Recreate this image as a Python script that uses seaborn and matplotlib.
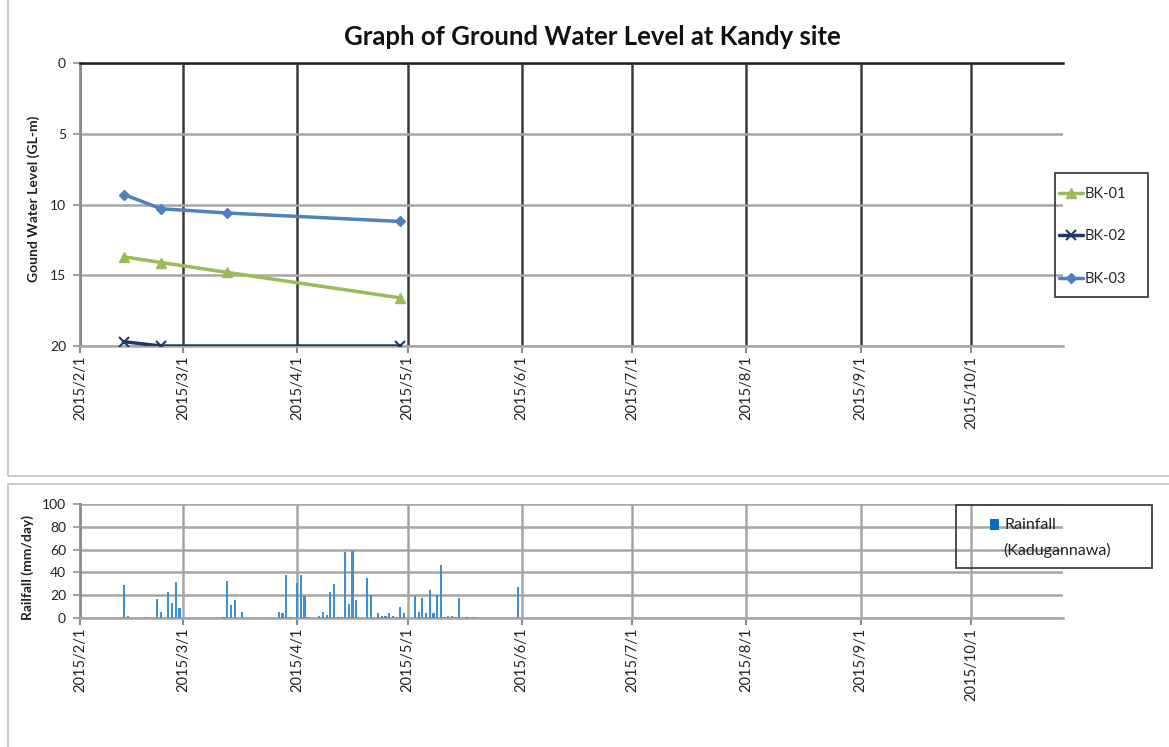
import matplotlib
matplotlib.use("Agg")
import matplotlib.pyplot as plt
import matplotlib.dates as mdates
from matplotlib.patches import Rectangle
from matplotlib.lines import Line2D
from matplotlib.ticker import FuncFormatter
import pandas as pd
import seaborn as sns

# ---- ground water level (m below ground level) ----
bk01_dates = ["2015-02-13", "2015-02-23", "2015-03-13", "2015-04-29"]
bk01_level = [13.7, 14.1, 14.8, 16.6]
bk02_dates = ["2015-02-13", "2015-02-23", "2015-04-29"]
bk02_level = [19.7, 20.0, 20.0]
bk03_dates = ["2015-02-13", "2015-02-23", "2015-03-13", "2015-04-29"]
bk03_level = [9.3, 10.3, 10.6, 11.2]

# ---- daily rainfall at Kadugannawa (mm/day) ----
rain_dates = [
    "2015-02-13", "2015-02-14", "2015-02-19", "2015-02-22", "2015-02-23",
    "2015-02-25", "2015-02-26", "2015-02-27", "2015-02-28",
    "2015-03-12", "2015-03-13", "2015-03-14", "2015-03-15", "2015-03-17",
    "2015-03-27", "2015-03-28", "2015-03-29", "2015-03-30",
    "2015-04-01", "2015-04-02", "2015-04-03", "2015-04-04",
    "2015-04-07", "2015-04-08", "2015-04-09", "2015-04-10", "2015-04-11",
    "2015-04-12", "2015-04-13", "2015-04-14", "2015-04-15", "2015-04-16",
    "2015-04-17", "2015-04-20", "2015-04-21",
    "2015-04-23", "2015-04-24", "2015-04-25", "2015-04-26", "2015-04-27",
    "2015-04-28", "2015-04-29", "2015-04-30",
    "2015-05-03", "2015-05-04", "2015-05-05", "2015-05-06", "2015-05-07",
    "2015-05-08", "2015-05-09", "2015-05-10", "2015-05-11", "2015-05-12",
    "2015-05-13", "2015-05-14", "2015-05-15", "2015-05-17", "2015-05-19",
    "2015-05-31",
]
rain_mm = [
    29, 2, 1, 17, 5,
    23, 13, 32, 9,
    1, 32.5, 11.5, 16, 5,
    5, 4, 37.5, 1,
    31, 37.5, 19, 1,
    2, 5, 3, 23, 30,
    1, 1, 57.5, 12.5, 58.5,
    16, 35.5, 20,
    4, 2, 2, 4, 1.5,
    1, 10, 4,
    19, 5, 17.5, 4, 25,
    4, 20, 46.5, 1, 1.5,
    1.5, 1, 17.5, 0.5, 0.5,
    27,
]
rain_label = ["Rainfall", "(Kadugannawa)"]

x_start = pd.Timestamp("2015-02-01")
x_end = pd.Timestamp("2015-10-26")

sns.set_theme(style="white")
plt.rcParams["font.family"] = ["Lato", "DejaVu Sans"]

fig = plt.figure(figsize=(11.69, 7.47), dpi=100)
W, H = 1169, 747


def fbox(x0, y0, x1, y1):
    """pixel box (top-left origin) -> figure fraction [l, b, w, h]"""
    return [x0 / W, 1 - y1 / H, (x1 - x0) / W, (y1 - y0) / H]


def frame(x0, y0, x1, y1, color, lw):
    l, b, w, h = fbox(x0, y0, x1, y1)
    fig.add_artist(Rectangle((l, b), w, h, transform=fig.transFigure,
                             fill=False, edgecolor=color, lw=lw))


# chart-area frames
frame(8, -5, 1175, 476, "#BFBFBF", 1.2)
frame(8, 484, 1175, 760, "#BFBFBF", 1.2)

date_fmt = FuncFormatter(
    lambda v, pos: (lambda d: f"{d.year}/{d.month}/{d.day}")(mdates.num2date(v)))


def style_axis(ax, vgrid_color):
    ax.set_xlim(x_start, x_end)
    ax.xaxis.set_major_locator(mdates.MonthLocator())
    ax.xaxis.set_major_formatter(date_fmt)
    ax.set_axisbelow(True)
    ax.yaxis.grid(True, color="#A6A6A6", lw=1.8)
    ax.xaxis.grid(True, color=vgrid_color, lw=1.8)
    ax.spines["right"].set_visible(False)
    ax.spines["left"].set_color("#8C8C8C")
    ax.spines["left"].set_linewidth(2)
    ax.tick_params(axis="x", which="major", bottom=True, length=5, width=1.5,
                   color="#8C8C8C", labelsize=10.5, labelrotation=90, pad=2,
                   labelcolor="#222222")
    ax.tick_params(axis="y", which="major", left=True, length=5, width=1.5,
                   color="#A6A6A6", labelsize=10, pad=5, labelcolor="#222222")
    ax.set_xlabel("")


# ---------------- ground water level ----------------
ax1 = fig.add_axes(fbox(80, 63, 1063, 346))
series = [
    ("BK-01", bk01_dates, bk01_level, "#9BBB59", "^", 7.5, 1.0),
    ("BK-02", bk02_dates, bk02_level, "#1F3864", "x", 7.5, 1.5),
    ("BK-03", bk03_dates, bk03_level, "#4F81BD", "D", 5.5, 1.0),
]
handles = []
for name, d, v, c, m, ms, mew in series:
    df = pd.DataFrame({"date": pd.to_datetime(d), "level": v})
    sns.lineplot(data=df, x="date", y="level", ax=ax1, color=c, lw=2.5,
                 marker=m, markersize=ms, markeredgecolor=c,
                 markeredgewidth=mew, zorder=3)
    handles.append(Line2D([], [], color=c, lw=2.5, marker=m, markersize=ms,
                          markeredgecolor=c, markeredgewidth=mew, label=name))

style_axis(ax1, "#3A3A3A")
ax1.set_ylim(20, 0)
ax1.set_yticks([0, 5, 10, 15, 20])
ax1.spines["top"].set_color("#202020")
ax1.spines["top"].set_linewidth(1.8)
ax1.spines["bottom"].set_color("#A6A6A6")
ax1.spines["bottom"].set_linewidth(1.8)
ax1.set_ylabel("Gound Water Level (GL-m)", fontsize=10, fontweight="bold",
               color="#222222")
ax1.yaxis.set_label_coords(-0.041, 0.52)

fig.text(592 / W, 1 - 37 / H, "Graph of Ground Water Level at Kandy site",
         ha="center", va="center", fontsize=18.5, fontweight="bold",
         color="#111111")

# series key: entries placed inside a separately drawn box
frame(1055, 173, 1148, 297, "#404040", 1.3)
l, b, w, h = fbox(1059, 187, 1148, 297)
leg1 = fig.legend(handles=handles, loc="upper left", bbox_to_anchor=(l, b + h),
                  bbox_transform=fig.transFigure, frameon=False,
                  fontsize=10.5, handlelength=1.65, handletextpad=0.12,
                  labelspacing=1.95, borderpad=0, borderaxespad=0)

# ---------------- rainfall ----------------
ax2 = fig.add_axes(fbox(80, 504, 1063, 618))
ax2.bar(pd.to_datetime(rain_dates), rain_mm, width=0.6, color="#3D8FD6",
        edgecolor="none", zorder=3)
style_axis(ax2, "#A6A6A6")
ax2.set_ylim(0, 100)
ax2.set_yticks([0, 20, 40, 60, 80, 100])
ax2.spines["top"].set_visible(False)
ax2.spines["bottom"].set_color("#A6A6A6")
ax2.spines["bottom"].set_linewidth(1.8)
ax2.set_ylabel("Railfall (mm/day)", fontsize=10, fontweight="bold",
               color="#222222")
ax2.yaxis.set_label_coords(-0.047, 0.447)

# rainfall key, boxed to the right of the plot
frame(956, 505, 1152, 568, "#404040", 1.3)
l, b, w, h = fbox(990, 519, 999, 530)
fig.add_artist(Rectangle((l, b), w, h, transform=fig.transFigure,
                         facecolor="#0070C0", edgecolor="none"))
fig.text(1005 / W, 1 - 525 / H, rain_label[0], ha="left", va="center",
         fontsize=11.5, color="#222222")
fig.text(1003 / W, 1 - 550 / H, rain_label[1], ha="left", va="center",
         fontsize=11.5, color="#222222")

fig.savefig("out.png", dpi=100)
